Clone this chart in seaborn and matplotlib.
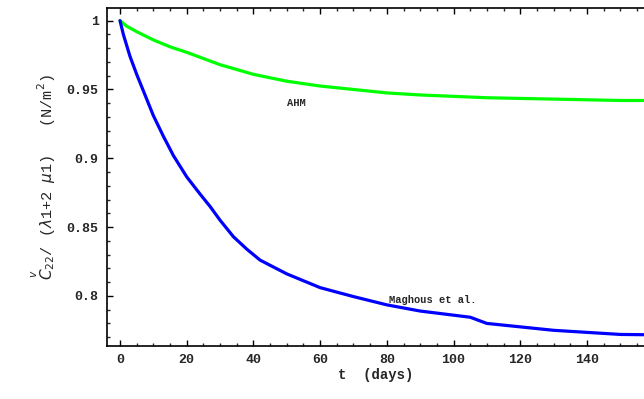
import numpy as np
import pandas as pd
import matplotlib
matplotlib.use("Agg")
import matplotlib.pyplot as plt
from matplotlib.ticker import MultipleLocator
import seaborn as sns

# Data
t_ahm = [0, 2, 5, 10, 15, 20, 25, 30, 35, 40, 45, 50, 60, 70, 80, 90, 100, 110, 120,
         130, 140, 150, 157]
v_ahm = [1.0, 0.996, 0.992, 0.986, 0.981, 0.977, 0.9725, 0.968, 0.9645, 0.961, 0.9585,
         0.956, 0.9525, 0.950, 0.9475, 0.946, 0.945, 0.944, 0.9435, 0.943, 0.9425,
         0.942, 0.942]
t_mag = [0, 1, 3, 5, 7, 10, 13, 16, 20, 24, 27, 30, 34, 38, 42, 46, 50, 55, 60, 70, 80,
         90, 100, 105, 110, 120, 130, 140, 150, 157]
v_mag = [1.0, 0.99, 0.974, 0.961, 0.949, 0.931, 0.916, 0.902, 0.8865, 0.874, 0.865,
         0.855, 0.843, 0.834, 0.826, 0.821, 0.816, 0.811, 0.806, 0.7995, 0.7935, 0.789,
         0.786, 0.7845, 0.780, 0.7775, 0.775, 0.7735, 0.772, 0.7718]
series_names = ["AHM", "Maghous et al."]
x_ticks = [0, 20, 40, 60, 80, 100, 120, 140]
y_ticks = [0.8, 0.85, 0.9, 0.95, 1.0]

df = pd.concat([
    pd.DataFrame({"t": t_ahm, "v": v_ahm, "model": series_names[0]}),
    pd.DataFrame({"t": t_mag, "v": v_mag, "model": series_names[1]}),
])

sns.set_style("ticks")
mono = "Liberation Mono"

fig = plt.figure(figsize=(6.44, 3.99), dpi=100)
ax = fig.add_axes([107 / 644, 1 - 346 / 399, 1 - 107 / 644, (346 - 8) / 399])

sns.lineplot(data=df, x="t", y="v", hue="model",
             palette={series_names[0]: "#00FF00", series_names[1]: "#0000FF"},
             linewidth=2.3, legend=False, ax=ax, sort=True)

ax.set_xlim(-3.9, 157.1)
ax.set_ylim(0.7636, 1.0092)
ax.set_xticks(x_ticks)
ax.set_xticklabels([str(v) for v in x_ticks])
ax.set_yticks(y_ticks)
ax.set_yticklabels(["0.8", "0.85", "0.9", "0.95", "1"])
ax.xaxis.set_minor_locator(MultipleLocator(5))
ax.yaxis.set_minor_locator(MultipleLocator(0.01))
ax.tick_params(which="major", direction="in", length=4, width=1.0, top=True,
               labelsize=9.5, color="black", pad=6)
ax.tick_params(which="minor", direction="in", length=2, width=1.0, top=True)
for lab in ax.get_xticklabels() + ax.get_yticklabels():
    lab.set_fontfamily(mono)
    lab.set_fontweight("bold")

for s in ["left", "bottom", "top"]:
    ax.spines[s].set_color("black")
    ax.spines[s].set_linewidth(1.2)
ax.spines["right"].set_visible(False)

ax.set_xlabel("t  (days)", fontfamily=mono, fontsize=10, fontweight="bold", labelpad=1)
ax.set_ylabel(r"$\overset{v}{C}_{22}$/ ($\lambda$1+2 $\mu$1)   (N/m$^2$)",
              fontfamily=mono, fontsize=11, labelpad=6)

ax.text(52.8, 0.940, series_names[0], fontfamily=mono, fontsize=7.5,
        fontweight="bold", ha="center", va="center")
ax.text(80.6, 0.797, series_names[1], fontfamily=mono, fontsize=7.5,
        fontweight="bold", ha="left", va="center")

fig.savefig("out.png", dpi=100, facecolor="white")
